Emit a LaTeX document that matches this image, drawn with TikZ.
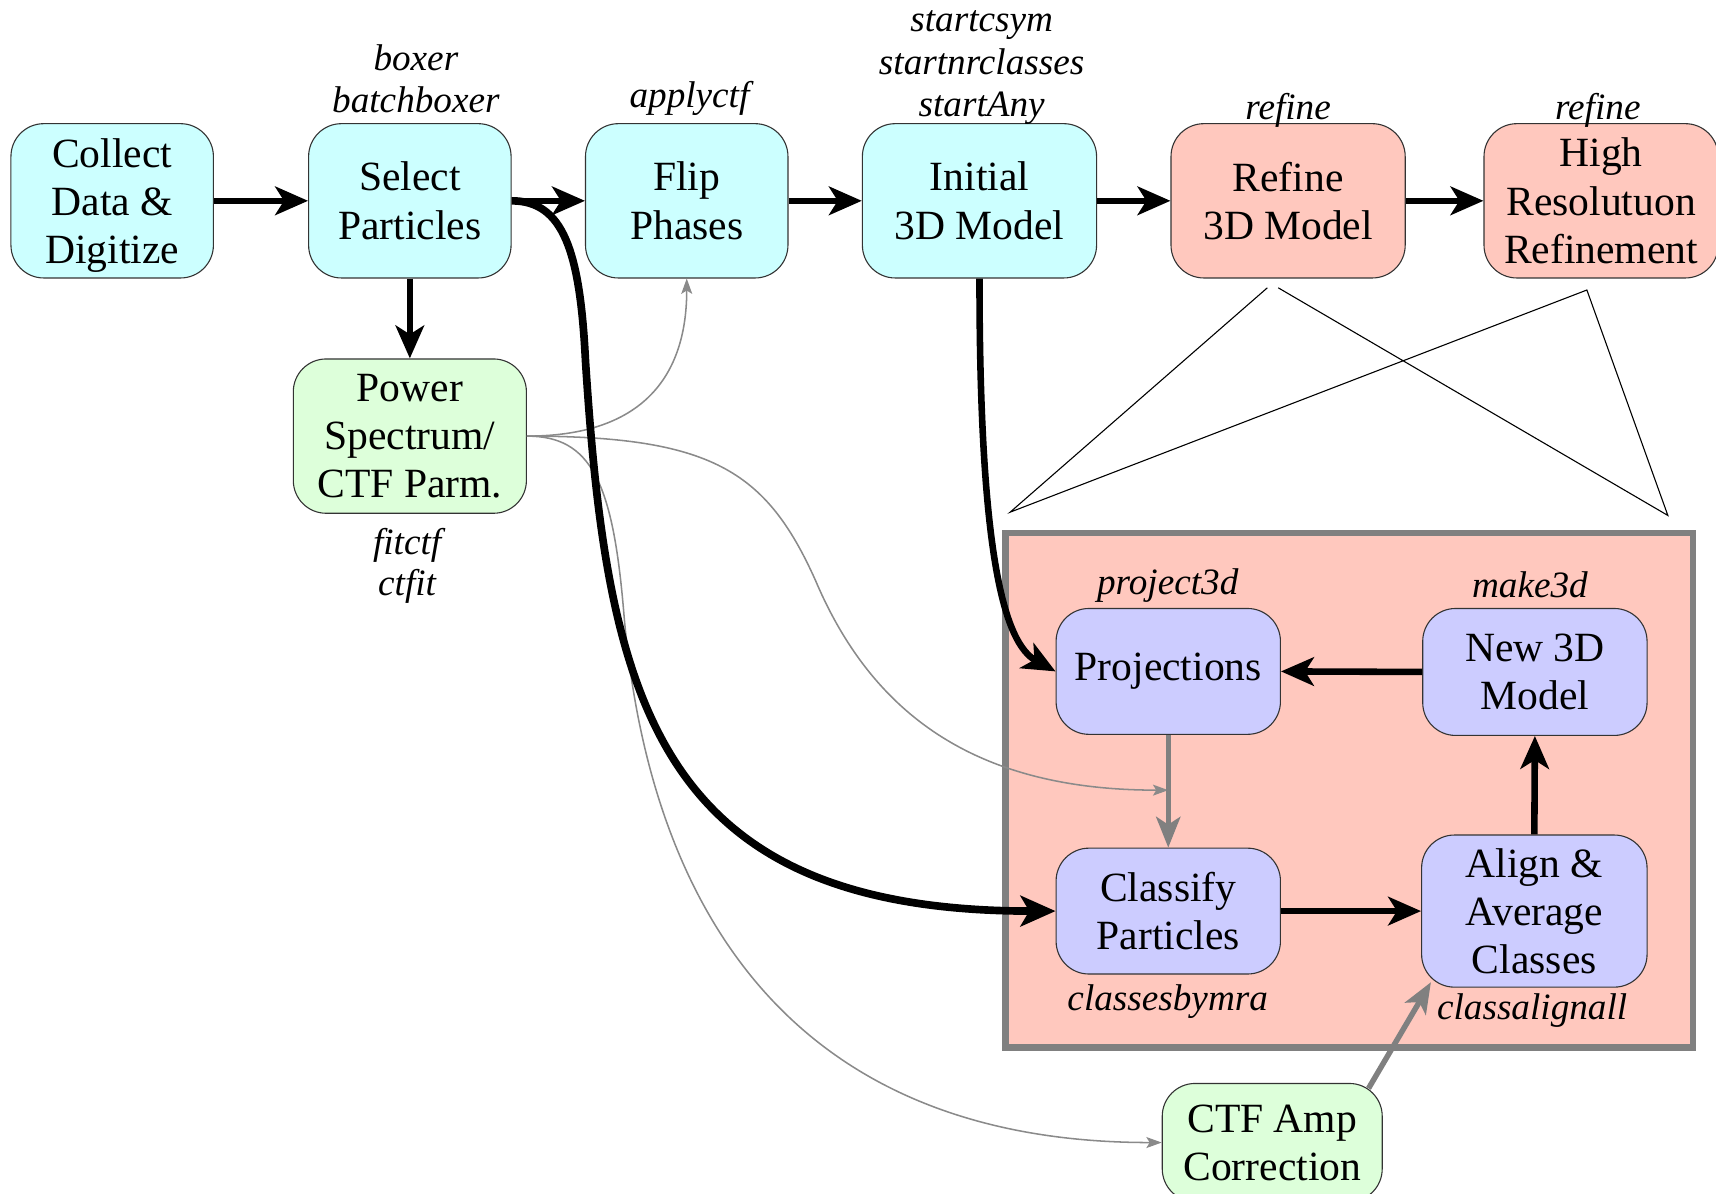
\documentclass[tikz,border=0pt]{standalone}
\usepackage{fontspec}
\setmainfont{Liberation Serif}
\usetikzlibrary{arrows.meta,calc}
\definecolor{cyanbox}{HTML}{CCFFFF}
\definecolor{salmonbox}{HTML}{FFC8BE}
\definecolor{greenbox}{HTML}{DDFFDA}
\definecolor{lavbox}{HTML}{CCCCFF}
\definecolor{framegray}{HTML}{808080}
\definecolor{thingray}{HTML}{8A8A8A}
\tikzset{
  box/.style={draw=black!80, line width=1pt, rounded corners=30pt, align=center, inner sep=0pt,
    font=\fontsize{38}{44}\selectfont},
  cbox/.style={box, fill=cyanbox},
  sbox/.style={box, fill=salmonbox},
  gbox/.style={box, fill=greenbox},
  lbox/.style={box, fill=lavbox},
  lbl/.style={font=\fontsize{34}{39}\selectfont\itshape, align=center, inner sep=0pt},
  bigarrow/.style={line width=6pt, -{Stealth[length=30pt,width=26pt,inset=8pt]}},
  hugecurve/.style={line width=7pt, -{Stealth[length=32pt,width=28pt,inset=8pt]}},
  grayarrow/.style={line width=5pt, draw=framegray, -{Stealth[length=28pt,width=22pt,inset=7pt]}},
  thinarrow/.style={line width=1.4pt, draw=thingray, -{Stealth[length=14pt,width=10pt,inset=3pt]}},
  fineline/.style={line width=1pt, draw=black}
}
\begin{document}
\begin{tikzpicture}[x=1pt,y=-1pt]
\useasboundingbox (0,0) rectangle (1568,1091);

% frame
\node[draw=framegray, line width=6pt, fill=salmonbox, minimum width=628pt, minimum height=470pt, inner sep=0pt] (frame) at (1233,722) {};

% top row
\node[cbox, minimum width=185pt, minimum height=141pt] (collect) at (102.5,183.5) {\rule{0pt}{35pt}Collect\\Data \&\\Digitize};
\node[cbox, minimum width=185pt, minimum height=141pt] (select) at (374.5,183.5) {Select\\Particles};
\node[cbox, minimum width=185pt, minimum height=141pt] (flip) at (627.5,183.5) {Flip\\Phases};
\node[cbox, minimum width=214pt, minimum height=141pt] (initial) at (895,183.5) {Initial\\3D Model};
\node[sbox, minimum width=214pt, minimum height=141pt] (refine) at (1177,183.5) {Refine\\3D Model};
\node[sbox, minimum width=214pt, minimum height=141pt] (high) at (1463,183.5) {High\\Resolutuon\\Refinement};

\node[gbox, minimum width=213pt, minimum height=141pt] (power) at (374.5,398.5) {Power\\Spectrum/\\CTF Parm.};

% inner loop
\node[lbox, minimum width=205pt, minimum height=115pt] (proj) at (1067.5,613.5) {Projections};
\node[lbox, minimum width=205pt, minimum height=116pt] (new3d) at (1402.5,614) {New 3D\\Model};
\node[lbox, minimum width=205pt, minimum height=115pt] (classify) at (1067.5,832.5) {Classify\\Particles};
\node[lbox, minimum width=206pt, minimum height=139pt] (align) at (1402,832.5) {Align \&\\Average\\Classes};
\node[gbox, minimum width=201pt, minimum height=108pt] (ctfamp) at (1162.5,1044) {CTF Amp\\Correction};

% labels
\node[lbl] (lboxer) at (380,72) {boxer\\batchboxer};
\node[lbl] (lapply) at (630,90) {applyctf};
\node[lbl] (lstart) at (897,62) {startcsym\\startnrclasses\\startAny};
\node[lbl] (lref1) at (1177,101) {refine};
\node[lbl] (lref2) at (1460,101) {refine};
\node[lbl, font=\fontsize{34}{38}\selectfont\itshape] (lfit) at (372,517) {fitctf\\ctfit};
\node[lbl] (lproj) at (1067,535) {project3d};
\node[lbl] (lmake) at (1398,534) {make3d};
\node[lbl] (lclass) at (1067,915) {classesbymra};
\node[lbl] (lalign) at (1400,923) {classalignall};

% zoom lines
\coordinate (r1) at (1158,263);
\coordinate (r2) at (1168,263);
\coordinate (h1) at (1450,265);
\coordinate (fl) at (923,468);
\coordinate (fr) at (1524,471);
\draw[fineline] (r1) -- (fl) -- (h1) -- (fr) -- (r2);

% thin gray curves from power
\draw[thinarrow] (power.east) .. controls (600,398.5) and (627.5,330) .. (flip.south);
\coordinate (pcmid) at (1067.5,722);
\draw[thinarrow] (power.east) .. controls (650,398.5) and (700,430) .. (745,530) .. controls (800,660) and (900,722) .. (pcmid);
\draw[thinarrow] (power.east) .. controls (540,398.5) and (560,440) .. (570,560) .. controls (590,800) and (700,1044) .. (ctfamp.west);

% top chain
\draw[bigarrow] (collect.east) -- (select.west);
\draw[bigarrow] (select.east) -- (flip.west);
\draw[bigarrow] (flip.east) -- (initial.west);
\draw[bigarrow] (initial.east) -- (refine.west);
\draw[bigarrow] (refine.east) -- (high.west);
\draw[bigarrow] (select.south) -- (power.north);

% big curves
\draw[hugecurve] (select.east) .. controls (515,183.5) and (530,230) .. (535,330) .. controls (555,640) and (600,832.5) .. (classify.west);
\draw[bigarrow] (initial.south) .. controls (895,510) and (918,588) .. (proj.west);

% loop arrows
\draw[bigarrow] (new3d.west) -- (proj.east);
\draw[grayarrow] (proj.south) -- (classify.north);
\draw[bigarrow] (classify.east) -- (align.west);
\draw[bigarrow] (align.north) -- (new3d.south);
\draw[grayarrow] ($(ctfamp.north east)+(-13,5)$) -- ($(align.south west)+(9,-5)$);
\end{tikzpicture}
\end{document}
